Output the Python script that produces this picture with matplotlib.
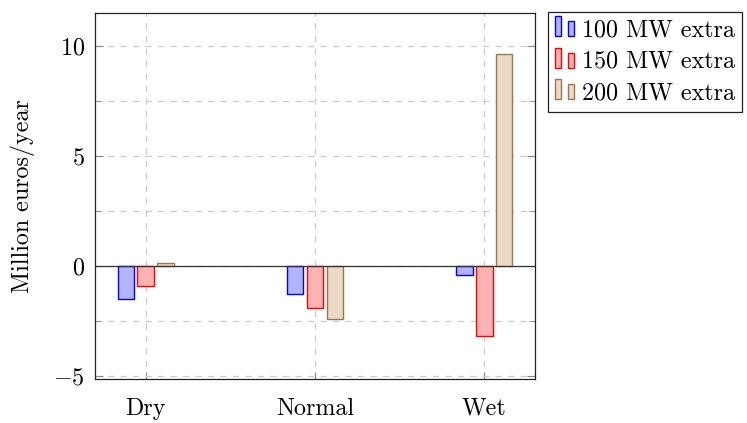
import matplotlib
matplotlib.use("Agg")
import matplotlib.pyplot as plt
from matplotlib.patches import Rectangle
from matplotlib.legend_handler import HandlerBase
import numpy as np

plt.rcParams["font.family"] = "serif"
plt.rcParams["font.serif"] = ["cmr10", "DejaVu Serif"]
plt.rcParams["mathtext.fontset"] = "cm"
plt.rcParams["axes.formatter.use_mathtext"] = True

FS = 17.3

categories = ["Dry", "Normal", "Wet"]
series_names = ["100 MW extra", "150 MW extra", "200 MW extra"]
extra_100 = [-1.52, -1.30, -0.40]
extra_150 = [-0.93, -1.92, -3.20]
extra_200 = [0.11, -2.40, 9.65]
yticks = [-5, 0, 5, 10]

fills = ["#b3b3ff", "#ffb3b3", "#ecd9c6"]
edges = ["#0000ff", "#ff0000", "#9a7654"]


class TwoBarHandler(HandlerBase):
    """Legend key made of two small bars, like a pgfplots ybar legend."""

    def create_artists(self, legend, orig_handle, xdescent, ydescent,
                       width, height, fontsize, trans):
        fc = orig_handle.get_facecolor()
        ec = orig_handle.get_edgecolor()
        bw = width * 0.29
        y0 = -ydescent
        r1 = Rectangle((-xdescent, y0), bw, height * 1.19, facecolor=fc,
                       edgecolor=ec, lw=1.0, transform=trans)
        r2 = Rectangle((-xdescent + width * 0.62, y0), bw, height * 0.89,
                       facecolor=fc, edgecolor=ec, lw=1.0, transform=trans)
        return [r1, r2]


fig = plt.figure(figsize=(7.47, 4.23), dpi=100)
ax = fig.add_axes([95 / 747, 1 - 379 / 423, 440 / 747, 366 / 423])

x = np.arange(len(categories))
offset = 0.118
width = 0.098
handles = []
for i, vals in enumerate([extra_100, extra_150, extra_200]):
    b = ax.bar(x + (i - 1) * offset, vals, width, color=fills[i],
               edgecolor=edges[i], linewidth=1.0, zorder=3,
               label=series_names[i])
    handles.append(b.patches[0])

ax.axhline(0, color="#333333", lw=0.9, zorder=4)

ax.set_xlim(-0.3, 2.3)
ax.set_ylim(-5.15, 11.5)
ax.set_xticks(x)
ax.set_xticklabels(categories)
ax.set_yticks(yticks)
ax.set_yticks(np.arange(-5, 11.5, 2.5), minor=True)

ax.grid(True, which="both", axis="y", color="#cccccc", ls=(0, (5, 5)), lw=0.9, zorder=0)
ax.grid(True, which="major", axis="x", color="#cccccc", ls=(0, (5, 5)), lw=0.9, zorder=0)

ax.tick_params(axis="both", which="both", direction="in", colors="#888888",
               labelcolor="black", labelsize=FS, right=True, top=False)
ax.tick_params(axis="y", which="major", length=6, pad=7.5)
ax.tick_params(axis="y", which="minor", length=4)
ax.tick_params(axis="x", which="major", length=5, pad=13.5)
for s in ax.spines.values():
    s.set_color("#222222")
    s.set_linewidth(0.9)

ax.set_ylabel("Million euros/year", fontsize=FS)
ax.yaxis.set_label_coords(-0.137, 0.5)

leg = fig.legend(handles, series_names, loc="upper left",
                 bbox_to_anchor=(548 / 747, 1 - 12 / 423),
                 handler_map={Rectangle: TwoBarHandler()},
                 fontsize=FS, frameon=True, fancybox=False, framealpha=1,
                 edgecolor="#222222", borderpad=0.3, labelspacing=0.39,
                 handlelength=0.875, handletextpad=0.25, borderaxespad=0)
leg.get_frame().set_linewidth(0.9)

fig.savefig("out.png", dpi=100)
